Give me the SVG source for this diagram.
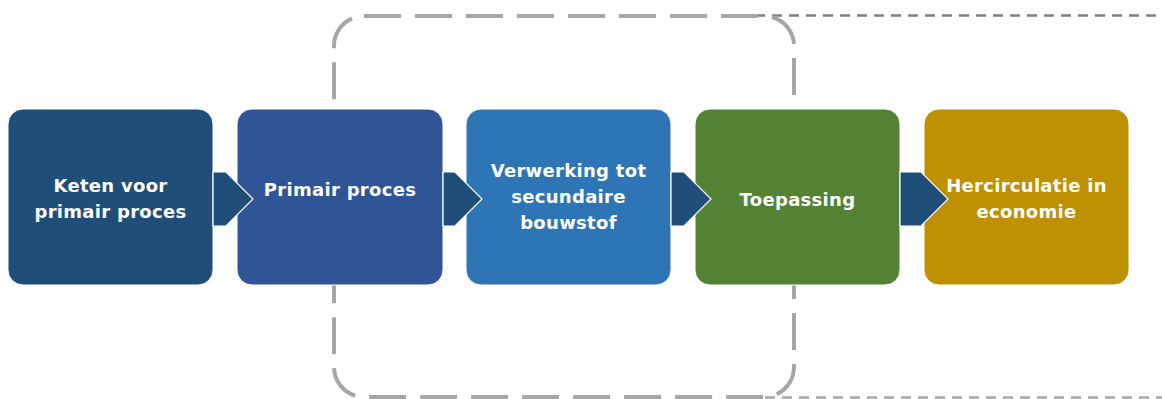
<svg xmlns="http://www.w3.org/2000/svg" width="1162" height="399" viewBox="0 0 1162 399">
<style>
.box{stroke:#ffffff;stroke-width:1}
.lbl{font-family:"DejaVu Sans","Open Sans",sans-serif;font-weight:700;font-size:18px;letter-spacing:0.3px;fill:#ffffff;text-anchor:middle}
.arr{fill:#1f4e79;stroke:#ffffff;stroke-width:1.2}
</style>
<rect width="1162" height="399" fill="#ffffff"/>
<g id="boundary">
<line x1="755" y1="15.5" x2="1162" y2="15.5" stroke="#7f7f7f" stroke-width="2.5" stroke-dasharray="10,7"/>
<line x1="765" y1="397.5" x2="1162" y2="397.5" stroke="#a6a6a6" stroke-width="2.5" stroke-dasharray="10,7"/>
<rect x="334" y="16" width="460" height="381" rx="30" ry="30" fill="none" stroke="#a6a6a6" stroke-width="4" stroke-dasharray="37,14"/>
</g>
<g id="node1"><rect class="box" x="8" y="109" width="205" height="176" rx="15" fill="#1f4e79"/>
<text class="lbl" x="110.5" y="192">Keten voor</text><text class="lbl" x="110.5" y="218">primair proces</text></g>
<g id="node2"><rect class="box" x="237" y="109" width="206" height="176" rx="15" fill="#2f5597"/>
<text class="lbl" x="340" y="196">Primair proces</text></g>
<g id="node3"><rect class="box" x="466" y="109" width="205" height="176" rx="15" fill="#2e75b6"/>
<text class="lbl" x="568.5" y="177">Verwerking tot</text><text class="lbl" x="568.5" y="203">secundaire</text><text class="lbl" x="568.5" y="229">bouwstof</text></g>
<g id="node4"><rect class="box" x="695" y="109" width="205" height="176" rx="15" fill="#548235"/>
<text class="lbl" x="797.5" y="206">Toepassing</text></g>
<g id="node5"><rect class="box" x="924" y="109" width="205" height="176" rx="15" fill="#bf9000"/>
<text class="lbl" x="1026.5" y="192">Hercirculatie in</text><text class="lbl" x="1026.5" y="218">economie</text></g>
<g id="connectors">
<polygon class="arr" points="213,172 226,172 253,199 226,226 213,226"/>
<polygon class="arr" points="443,172 455,172 482,199 455,226 443,226"/>
<polygon class="arr" points="671,172 684,172 711,199 684,226 671,226"/>
<polygon class="arr" points="900,172 921,172 948,199 921,226 900,226"/>
</g>
</svg>
